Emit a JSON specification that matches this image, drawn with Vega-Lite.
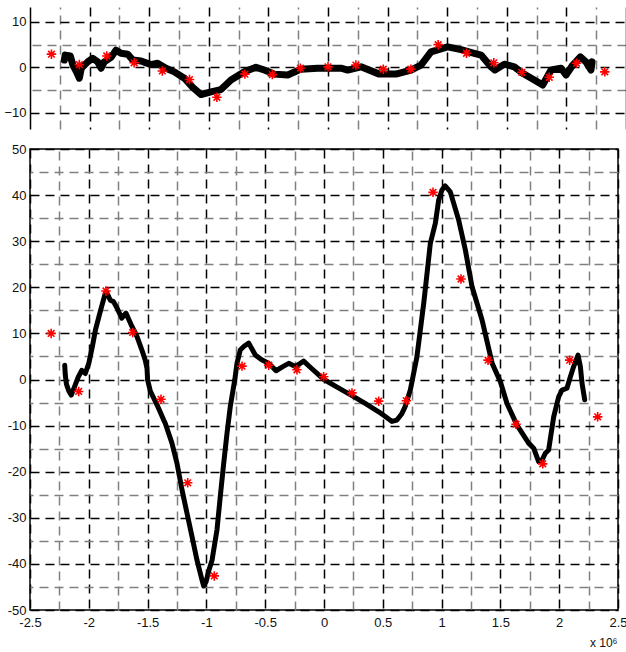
{
  "$schema": "https://vega.github.io/schema/vega-lite/v6.json",
  "autosize": {"type": "pad"},
  "padding": {"left": 3, "top": 7, "right": 0, "bottom": 0},
  "spacing": 20,
  "bounds": "flush",
  "config": {
    "font": "Liberation Sans",
    "axis": {"labelFont": "Liberation Sans", "labelFontSize": 13, "labelColor": "#111", "titleFont": "Liberation Sans", "labelFlush": false}
  },
  "datasets": {
    "trace_top": [
      {"x": -2.212, "y": 1.6}, {"x": -2.205, "y": 2.7}, {"x": -2.162, "y": 2.5}, {"x": -2.14, "y": 0.5}, {"x": -2.11, "y": -1.0},
      {"x": -2.086, "y": -2.4}, {"x": -2.07, "y": -0.2}, {"x": -2.016, "y": 1.2}, {"x": -1.974, "y": 2.0}, {"x": -1.932, "y": 1.2},
      {"x": -1.904, "y": -0.2}, {"x": -1.877, "y": 1.2}, {"x": -1.82, "y": 2.2}, {"x": -1.779, "y": 3.8}, {"x": -1.737, "y": 3.1},
      {"x": -1.68, "y": 2.9}, {"x": -1.638, "y": 1.6}, {"x": -1.569, "y": 1.4}, {"x": -1.485, "y": 0.6}, {"x": -1.43, "y": 0.9},
      {"x": -1.359, "y": -0.2}, {"x": -1.289, "y": -1.0}, {"x": -1.205, "y": -2.4}, {"x": -1.177, "y": -3.2}, {"x": -1.135, "y": -4.4},
      {"x": -1.065, "y": -6.0}, {"x": -0.982, "y": -5.4}, {"x": -0.898, "y": -4.9}, {"x": -0.814, "y": -2.8}, {"x": -0.702, "y": -1.0},
      {"x": -0.604, "y": 0.0}, {"x": -0.534, "y": -0.6}, {"x": -0.45, "y": -1.5}, {"x": -0.338, "y": -1.7}, {"x": -0.227, "y": -0.4},
      {"x": -0.086, "y": -0.2}, {"x": 0.109, "y": -0.2}, {"x": 0.165, "y": -0.6}, {"x": 0.277, "y": 0.1}, {"x": 0.43, "y": -1.5},
      {"x": 0.57, "y": -1.5}, {"x": 0.696, "y": -0.6}, {"x": 0.78, "y": 0.5}, {"x": 0.864, "y": 3.4}, {"x": 1.004, "y": 4.5},
      {"x": 1.116, "y": 3.9}, {"x": 1.227, "y": 3.1}, {"x": 1.284, "y": 2.7}, {"x": 1.367, "y": 0.1}, {"x": 1.4, "y": -0.6},
      {"x": 1.48, "y": 0.7}, {"x": 1.563, "y": 0.1}, {"x": 1.633, "y": -1.3}, {"x": 1.731, "y": -2.8}, {"x": 1.801, "y": -3.9},
      {"x": 1.871, "y": -0.6}, {"x": 1.955, "y": -0.2}, {"x": 1.997, "y": -1.7}, {"x": 2.053, "y": 0.5}, {"x": 2.117, "y": 2.3},
      {"x": 2.164, "y": 1.2}, {"x": 2.206, "y": -0.6}, {"x": 2.215, "y": 1.2}
    ],
    "stars_top": [
      {"x": -2.32, "y": 2.9}, {"x": -2.086, "y": 0.6}, {"x": -1.856, "y": 2.5}, {"x": -1.626, "y": 1.0}, {"x": -1.39, "y": -0.8},
      {"x": -1.162, "y": -2.7}, {"x": -0.932, "y": -6.6}, {"x": -0.697, "y": -1.5}, {"x": -0.467, "y": -1.6}, {"x": -0.231, "y": -0.2},
      {"x": 0.0, "y": 0.1}, {"x": 0.234, "y": 0.5}, {"x": 0.464, "y": -0.4}, {"x": 0.695, "y": -0.4}, {"x": 0.924, "y": 5.0},
      {"x": 1.162, "y": 3.1}, {"x": 1.391, "y": 1.0}, {"x": 1.626, "y": -1.1}, {"x": 1.856, "y": -2.2}, {"x": 2.085, "y": 0.9},
      {"x": 2.322, "y": -1.0}
    ],
    "trace_bottom": [
      {"x": -2.205, "y": 3.1}, {"x": -2.2, "y": 1.0}, {"x": -2.19, "y": -1.0}, {"x": -2.17, "y": -2.5}, {"x": -2.149, "y": -3.4},
      {"x": -2.12, "y": -1.5}, {"x": -2.09, "y": 0.5}, {"x": -2.06, "y": 2.0}, {"x": -2.03, "y": 1.3}, {"x": -2.0, "y": 3.5},
      {"x": -1.97, "y": 7.1}, {"x": -1.944, "y": 10.7}, {"x": -1.9, "y": 15.0}, {"x": -1.86, "y": 18.7}, {"x": -1.85, "y": 19.0},
      {"x": -1.817, "y": 17.2}, {"x": -1.79, "y": 16.9}, {"x": -1.76, "y": 15.5}, {"x": -1.72, "y": 13.3}, {"x": -1.684, "y": 14.4},
      {"x": -1.633, "y": 11.5}, {"x": -1.59, "y": 9.3}, {"x": -1.55, "y": 6.5}, {"x": -1.52, "y": 4.2}, {"x": -1.505, "y": 2.4},
      {"x": -1.5, "y": -0.1}, {"x": -1.477, "y": -2.5}, {"x": -1.42, "y": -5.5}, {"x": -1.363, "y": -8.8}, {"x": -1.35, "y": -9.5},
      {"x": -1.293, "y": -13.8}, {"x": -1.25, "y": -18.2}, {"x": -1.207, "y": -24.0}, {"x": -1.165, "y": -29.0}, {"x": -1.122, "y": -34.1},
      {"x": -1.08, "y": -39.2}, {"x": -1.037, "y": -43.5}, {"x": -1.023, "y": -44.8}, {"x": -1.003, "y": -43.9}, {"x": -0.98, "y": -41.5},
      {"x": -0.952, "y": -39.2}, {"x": -0.91, "y": -32.6}, {"x": -0.882, "y": -25.4}, {"x": -0.853, "y": -18.2}, {"x": -0.825, "y": -11.7},
      {"x": -0.797, "y": -5.9}, {"x": -0.759, "y": -0.1}, {"x": -0.74, "y": 3.5}, {"x": -0.712, "y": 6.4}, {"x": -0.68, "y": 7.2},
      {"x": -0.64, "y": 7.9}, {"x": -0.584, "y": 5.3}, {"x": -0.53, "y": 4.3}, {"x": -0.47, "y": 3.5}, {"x": -0.408, "y": 1.9},
      {"x": -0.35, "y": 2.8}, {"x": -0.3, "y": 3.5}, {"x": -0.244, "y": 2.8}, {"x": -0.173, "y": 4.0}, {"x": -0.11, "y": 2.5},
      {"x": -0.045, "y": 1.0}, {"x": 0.0, "y": 0.0}, {"x": 0.1, "y": -1.5}, {"x": 0.238, "y": -3.5}, {"x": 0.35, "y": -5.2},
      {"x": 0.465, "y": -7.0}, {"x": 0.53, "y": -8.2}, {"x": 0.578, "y": -9.1}, {"x": 0.62, "y": -8.8}, {"x": 0.66, "y": -7.5},
      {"x": 0.69, "y": -5.9}, {"x": 0.734, "y": -2.3}, {"x": 0.748, "y": -0.5}, {"x": 0.79, "y": 4.9}, {"x": 0.819, "y": 10.7},
      {"x": 0.848, "y": 16.5}, {"x": 0.876, "y": 23.0}, {"x": 0.904, "y": 29.5}, {"x": 0.947, "y": 33.9}, {"x": 0.975, "y": 38.9},
      {"x": 1.003, "y": 41.1}, {"x": 1.03, "y": 42.0}, {"x": 1.074, "y": 40.7}, {"x": 1.145, "y": 34.6}, {"x": 1.202, "y": 28.1},
      {"x": 1.259, "y": 20.1}, {"x": 1.344, "y": 12.9}, {"x": 1.43, "y": 3.5}, {"x": 1.5, "y": -0.5}, {"x": 1.556, "y": -5.2},
      {"x": 1.641, "y": -9.9}, {"x": 1.74, "y": -13.8}, {"x": 1.783, "y": -14.9}, {"x": 1.825, "y": -17.8}, {"x": 1.854, "y": -17.5},
      {"x": 1.882, "y": -16.0}, {"x": 1.91, "y": -15.3}, {"x": 1.953, "y": -8.1}, {"x": 1.996, "y": -3.7}, {"x": 2.024, "y": -2.3},
      {"x": 2.066, "y": -1.9}, {"x": 2.095, "y": 0.6}, {"x": 2.123, "y": 2.8}, {"x": 2.16, "y": 5.3}, {"x": 2.18, "y": 2.8},
      {"x": 2.194, "y": -0.8}, {"x": 2.217, "y": -4.4}
    ],
    "stars_bottom": [
      {"x": -2.32, "y": 10.0}, {"x": -2.086, "y": -2.6}, {"x": -1.854, "y": 19.2}, {"x": -1.627, "y": 10.2}, {"x": -1.386, "y": -4.3},
      {"x": -1.159, "y": -22.4}, {"x": -0.933, "y": -42.6}, {"x": -0.697, "y": 2.9}, {"x": -0.47, "y": 3.1}, {"x": -0.23, "y": 2.1},
      {"x": -0.003, "y": 0.6}, {"x": 0.238, "y": -2.9}, {"x": 0.465, "y": -4.7}, {"x": 0.7, "y": -4.6}, {"x": 0.927, "y": 40.6},
      {"x": 1.165, "y": 21.8}, {"x": 1.395, "y": 4.2}, {"x": 1.633, "y": -9.7}, {"x": 1.86, "y": -18.3}, {"x": 2.089, "y": 4.2},
      {"x": 2.327, "y": -8.1}
    ]
  },
  "vconcat": [
    {
      "width": 596,
      "height": 122,
      "view": {"stroke": null},
      "layer": [
        {
          "data": {"name": "trace_top"},
          "mark": {"type": "line", "color": "black", "strokeWidth": 7, "strokeCap": "round", "strokeJoin": "round"},
          "encoding": {
            "x": {"field": "x", "type": "quantitative",
              "scale": {"domain": [-2.5, 2.5], "nice": false, "zero": false},
              "axis": {"orient": "bottom", "values": [-2, -1.5, -1, -0.5, 0, 0.5, 1, 1.5, 2],
                "labels": false, "ticks": false, "domain": false, "title": null, "grid": true,
                "gridColor": "#000000", "gridDash": [9, 6], "gridWidth": 1.5, "gridOpacity": 1}},
            "y": {"field": "y", "type": "quantitative",
              "scale": {"domain": [-13.6, 13.3], "nice": false, "zero": false},
              "axis": {"orient": "left", "values": [-10, 0, 10],
                "ticks": false, "domain": true, "domainColor": "#000", "domainWidth": 1.5, "labelPadding": 4, "title": null,
                "grid": true, "gridColor": "#000000", "gridDash": [9, 6], "gridWidth": 1.5, "gridOpacity": 1}}
          }
        },
        {
          "data": {"name": "stars_top"},
          "mark": {"type": "point", "shape": "M-1,0L1,0M0,-1L0,1M-0.7,-0.7L0.7,0.7M-0.7,0.7L0.7,-0.7", "color": "#ff0000", "filled": false, "strokeWidth": 1.6, "size": 90, "opacity": 1},
          "encoding": {
            "x": {"field": "x", "type": "quantitative",
              "axis": {"orient": "top", "values": [-2.25, -1.75, -1.25, -0.75, -0.25, 0.25, 0.75, 1.25, 1.75, 2.25],
                "labels": false, "ticks": false, "domain": false, "title": null, "grid": true,
                "gridColor": "#808080", "gridDash": [9, 6], "gridWidth": 1.5, "gridOpacity": 1}},
            "y": {"field": "y", "type": "quantitative",
              "axis": {"orient": "right", "values": [-5, 5], "labels": false, "ticks": false, "domain": true, "domainColor": "#000", "domainWidth": 1.5, "title": null,
                "grid": true, "gridColor": "#808080", "gridDash": [9, 6], "gridWidth": 1.5, "gridOpacity": 1}}
          }
        }
      ],
      "resolve": {"axis": {"x": "independent", "y": "independent"}}
    },
    {
      "width": 588,
      "height": 461,
      "view": {"stroke": "#000", "strokeWidth": 1.5},
      "layer": [
        {
          "data": {"name": "trace_bottom"},
          "mark": {"type": "line", "color": "black", "strokeWidth": 5, "strokeCap": "round", "strokeJoin": "round"},
          "encoding": {
            "x": {"field": "x", "type": "quantitative",
              "scale": {"domain": [-2.5, 2.5], "nice": false, "zero": false},
              "axis": {"orient": "bottom", "values": [-2.5, -2, -1.5, -1, -0.5, 0, 0.5, 1, 1.5, 2, 2.5],
                "labelExpr": "'' + datum.value",
                "ticks": false, "domain": false, "labelPadding": 6,
                "title": "x 10⁶", "titleFontSize": 12, "titleFontWeight": "normal", "titleColor": "#111",
                "titleAlign": "right", "titleAnchor": "end", "titleX": 587, "titleY": 36, "titleBaseline": "alphabetic",
                "grid": true, "gridColor": "#000000", "gridDash": [9, 6], "gridWidth": 1.5, "gridOpacity": 1}},
            "y": {"field": "y", "type": "quantitative",
              "scale": {"domain": [-50, 50], "nice": false, "zero": false},
              "axis": {"orient": "left", "values": [-50, -40, -30, -20, -10, 0, 10, 20, 30, 40, 50],
                "labelExpr": "'' + datum.value",
                "ticks": false, "domain": false, "labelPadding": 4, "title": null,
                "grid": true, "gridColor": "#000000", "gridDash": [9, 6], "gridWidth": 1.5, "gridOpacity": 1}}
          }
        },
        {
          "data": {"name": "stars_bottom"},
          "mark": {"type": "point", "shape": "M-1,0L1,0M0,-1L0,1M-0.7,-0.7L0.7,0.7M-0.7,0.7L0.7,-0.7", "color": "#ff0000", "filled": false, "strokeWidth": 1.6, "size": 90, "opacity": 1},
          "encoding": {
            "x": {"field": "x", "type": "quantitative",
              "axis": {"orient": "top", "values": [-2.25, -1.75, -1.25, -0.75, -0.25, 0.25, 0.75, 1.25, 1.75, 2.25],
                "labels": false, "ticks": false, "domain": false, "title": null, "grid": true,
                "gridColor": "#808080", "gridDash": [9, 6], "gridWidth": 1.5, "gridOpacity": 1}},
            "y": {"field": "y", "type": "quantitative",
              "axis": {"orient": "right", "values": [-45, -35, -25, -15, -5, 5, 15, 25, 35, 45], "labels": false, "ticks": false, "domain": false, "title": null,
                "grid": true, "gridColor": "#808080", "gridDash": [9, 6], "gridWidth": 1.5, "gridOpacity": 1}}
          }
        }
      ],
      "resolve": {"axis": {"x": "independent", "y": "independent"}}
    }
  ]
}
